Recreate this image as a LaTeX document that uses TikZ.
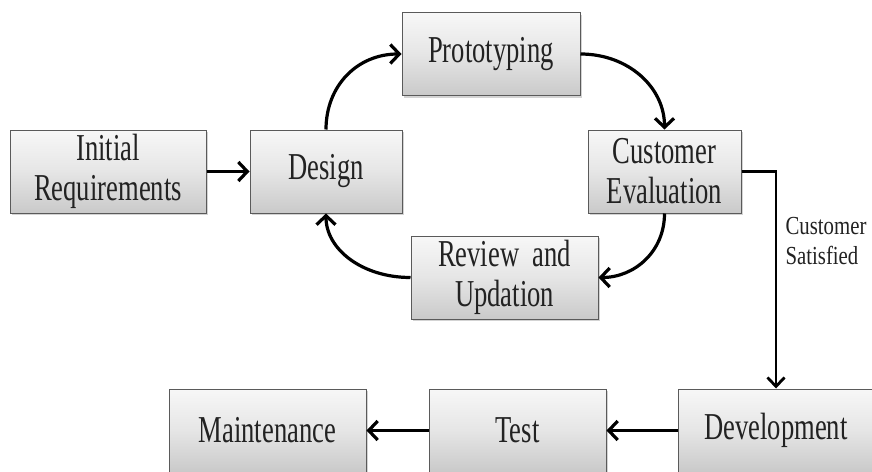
\documentclass[tikz,border=0pt]{standalone}
\usepackage{fontspec}
\setmainfont[FakeStretch=0.7]{Liberation Serif}
\newfontfamily\lblfont[FakeStretch=0.8]{Liberation Serif}
\usetikzlibrary{arrows.meta,shadows}
\definecolor{boxline}{HTML}{5A5A5A}
\definecolor{txt}{HTML}{222222}
\tikzset{
  stagebox/.style={draw=boxline, line width=1pt, top color=gray!6, bottom color=gray!42,
    middle color=gray!20, drop shadow={opacity=0.35, shadow xshift=2pt, shadow yshift=-2pt},
    minimum height=83pt, inner sep=0pt, align=center, text=txt,
    font=\fontsize{38}{40}\selectfont},
  tipA/.tip={Straight Barb[length=9pt,width=19pt,line width=3.2pt]},
  flow/.style={line width=3.6pt, -tipA},
  loop/.style={line width=3.2pt, -tipA},
  elbow/.style={line width=2.8pt, -{Straight Barb[length=9pt,width=17pt,line width=2.8pt]}},
}
\begin{document}
\begin{tikzpicture}[x=1pt,y=-1pt]
\useasboundingbox (0,0) rectangle (872,471);
\clip (0,0) rectangle (872,471);
\node[stagebox, minimum width=196pt] (init) at (108,171.5) {Initial\\Requirements};
\node[stagebox, minimum width=152pt] (design) at (326,171.5) {Design};
\node[stagebox, minimum width=178pt] (proto) at (491,54) {Prototyping};
\node[stagebox, minimum width=153pt] (cust) at (664.5,171.5) {Customer\\Evaluation};
\node[stagebox, minimum width=187pt] (review) at (504.5,277.5) {Review\ \ and\\Updation};
\node[stagebox, minimum width=197pt] (maint) at (267.5,430.5) {Maintenance};
\node[stagebox, minimum width=177pt] (test) at (517.5,430.5) {Test};
\node[stagebox, minimum width=196pt] (dev) at (776,430.5) {Development};
\node[anchor=west, align=left, text=txt, font=\lblfont\fontsize{26}{30}\selectfont] (sat) at (782,241) {Customer\\Satisfied};

\draw[flow] (init) -- (design);
\draw[loop] (design.north) .. controls +(0,-44) and +(-44,0) .. (proto.west);
\draw[loop] (proto.east) .. controls +(48,0) and +(0,-42) .. (cust.north);
\draw[loop] (cust.south) .. controls +(0,38) and +(36,0) .. (review.east);
\draw[loop] (review.west) .. controls +(-48,0) and +(0,36) .. (design.south);
\draw[elbow] (cust.east) -| (dev.north);
\draw[flow] (dev) -- (test);
\draw[flow] (test) -- (maint);
\end{tikzpicture}
\end{document}
